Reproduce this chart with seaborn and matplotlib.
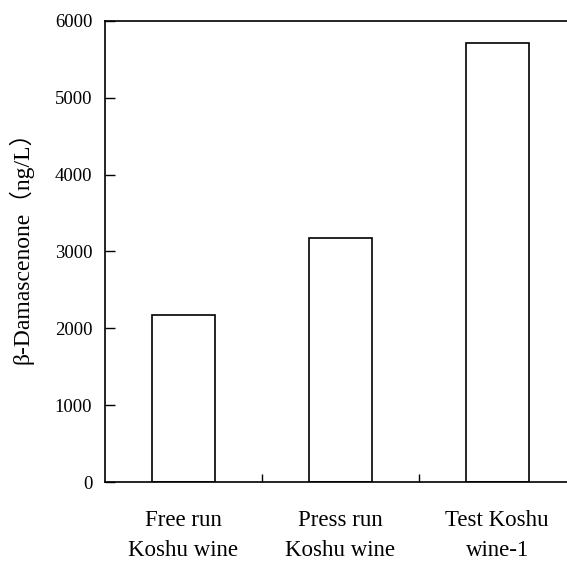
import matplotlib
matplotlib.use("Agg")
import matplotlib.pyplot as plt
from matplotlib.ticker import FixedLocator, NullFormatter
import seaborn as sns
import pandas as pd

# Wine samples and their beta-damascenone concentrations (ng/L)
samples = ["Free run\nKoshu wine", "Press run\nKoshu wine", "Test Koshu\nwine-1"]
damascenone = [2170, 3175, 5710]
y_ticks = [0, 1000, 2000, 3000, 4000, 5000, 6000]

sns.set_theme(style="white")
plt.rcParams["font.family"] = ["Liberation Serif", "Noto Sans CJK JP", "DejaVu Serif"]

df = pd.DataFrame({"sample": samples, "value": damascenone})

fig = plt.figure(figsize=(5.67, 5.65), dpi=100)
ax = fig.add_axes([0.1847, 0.1464, 0.8306, 0.817])

sns.barplot(data=df, x="sample", y="value", order=samples, color="white",
            edgecolor="black", linewidth=1.2, width=0.4, ax=ax)

ax.set_xlim(-0.5, len(samples) - 0.5)
ax.set_ylim(0, 6000)
ax.set_yticks(y_ticks)
ax.set_yticklabels([str(t) for t in y_ticks])

for side in ["left", "bottom", "top", "right"]:
    ax.spines[side].set_visible(True)
    ax.spines[side].set_color("black")
    ax.spines[side].set_linewidth(1.2)

# category separators as inward minor ticks on the x axis
ax.xaxis.set_minor_locator(FixedLocator([i + 0.5 for i in range(len(samples) - 1)]))
ax.xaxis.set_minor_formatter(NullFormatter())
ax.tick_params(axis="x", which="major", length=0, pad=20, labelsize=16.5, colors="black")
ax.tick_params(axis="x", which="minor", direction="in", length=6, width=1.0,
               bottom=True, top=False, color="black")
ax.tick_params(axis="y", which="major", direction="in", length=7, width=1.0,
               left=True, right=False, pad=9, labelsize=13.5, colors="black")
for lab in ax.get_xticklabels():
    lab.set_linespacing(1.55)

ax.set_xlabel("")
ax.set_ylabel("β-Damascenone（ng/L）", fontsize=17, color="black")
ax.yaxis.set_label_coords(-0.152, 0.52)

fig.savefig("out.png", dpi=100, facecolor="white")
